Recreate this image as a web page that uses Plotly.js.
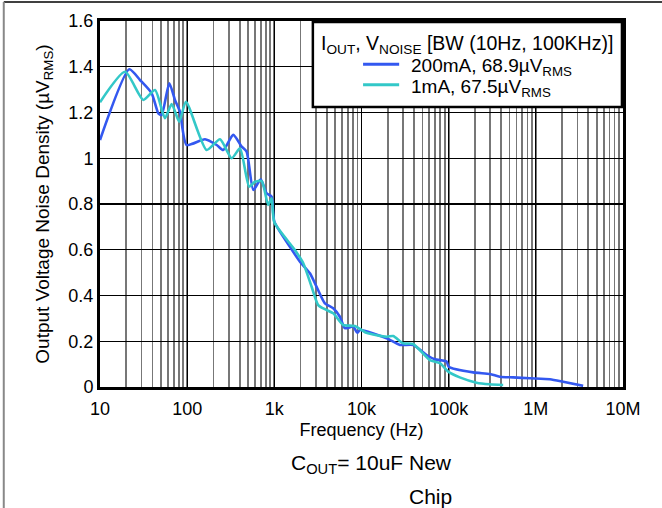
<!DOCTYPE html>
<html>
<head>
<meta charset="utf-8">
<script src="https://cdn.plot.ly/plotly-3.0.1.min.js"></script>
<style>
  html, body { margin: 0; padding: 0; background: #fff; }
  #chart { width: 662px; height: 508px; }
</style>
</head>
<body>
<div id="chart"></div>
<script>
// ---- Data ----
const freq200mA = [10, 21.7, 28.8, 39.2, 46.7, 50.9, 62.4, 72.4, 82.6, 98.6, 160, 218, 259, 338, 422, 481, 574, 697, 816, 931, 1000, 1510, 1968, 2560, 3055, 3802, 4740, 5650, 6450, 8040, 8940, 9600, 19400, 27600, 39200, 55800, 69500, 94600, 100000, 191000, 297000, 386000, 550000, 853000, 1450000, 2060000, 3490000];
const noise200mA = [1.08, 1.389, 1.342, 1.284, 1.196, 1.189, 1.328, 1.255, 1.204, 1.058, 1.083, 1.058, 1.036, 1.102, 1.051, 1.029, 0.861, 0.908, 0.847, 0.832, 0.723, 0.613, 0.548, 0.497, 0.438, 0.366, 0.344, 0.307, 0.257, 0.264, 0.237, 0.249, 0.213, 0.184, 0.184, 0.14, 0.121, 0.111, 0.089, 0.064, 0.057, 0.045, 0.042, 0.038, 0.034, 0.023, 0.005];

const freq1mA = [10, 19.4, 31.4, 42.8, 55.6, 66.4, 81.1, 96.8, 167, 238, 324, 404, 515, 600, 716, 851, 931, 1000, 1722, 2148, 2678, 3188, 3802, 4740, 6170, 8400, 11400, 19400, 23100, 30100, 39200, 60800, 79300, 98800, 134000, 209000, 297000, 422000];
const noise1mA = [1.245, 1.378, 1.255, 1.298, 1.175, 1.237, 1.16, 1.247, 1.036, 1.083, 1.0, 1.043, 0.876, 0.897, 0.9, 0.796, 0.825, 0.72, 0.599, 0.541, 0.438, 0.358, 0.34, 0.322, 0.271, 0.267, 0.237, 0.22, 0.223, 0.191, 0.188, 0.118, 0.104, 0.067, 0.042, 0.019, 0.012, 0.009];

const xTickVals = [10, 100, 1000, 10000, 100000, 1000000, 10000000];
const xTickText = ['10', '100', '1k', '10k', '100k', '1M', '10M'];
const legendHeader = 'I<sub>OUT</sub>, V<sub>NOISE</sub> [BW (10Hz, 100KHz)]';
const seriesNames = ['200mA, 68.9µV<sub>RMS</sub>', '1mA, 67.5µV<sub>RMS</sub>'];
const seriesColors = ['#3358f0', '#33c8c8'];

const FONT = 'Liberation Sans, Arial, sans-serif';

const traces = [
  { x: freq200mA, y: noise200mA, mode: 'lines', name: seriesNames[0],
    line: { color: seriesColors[0], width: 2.6, shape: 'spline', smoothing: 0.6 }, showlegend: false },
  { x: freq1mA, y: noise1mA, mode: 'lines', name: seriesNames[1],
    line: { color: seriesColors[1], width: 2.6, shape: 'spline', smoothing: 0.6 }, showlegend: false }
];

// legend box geometry in paper coords
const lgX0 = 0.407, lgX1 = 0.998, lgY0 = 0.765, lgY1 = 0.997;

const layout = {
  width: 662, height: 508,
  margin: { l: 100, r: 39, t: 21, b: 121 },
  paper_bgcolor: '#fff', plot_bgcolor: '#fff',
  font: { family: FONT, size: 18, color: '#000' },
  showlegend: false,
  xaxis: {
    type: 'log', range: [1, 7],
    tickvals: xTickVals, ticktext: xTickText,
    showgrid: true, gridcolor: '#000', gridwidth: 1.3,
    minor: { showgrid: true, gridcolor: '#777', gridwidth: 1.7, dtick: 'D1' },
    showline: true, linecolor: '#000', linewidth: 3, mirror: true,
    ticks: '', zeroline: false, ticklabelstandoff: 3,
    tickfont: { family: FONT, size: 18, color: '#000' },
    title: { text: 'Frequency (Hz)', font: { family: FONT, size: 18, color: '#000' }, standoff: 6 },
    automargin: false
  },
  yaxis: {
    range: [0, 1.6], dtick: 0.2, tick0: 0,
    showgrid: true, gridcolor: '#000', gridwidth: 1.3,
    showline: true, linecolor: '#000', linewidth: 3, mirror: true,
    ticks: '', zeroline: false,
    tickfont: { family: FONT, size: 18, color: '#000' },
    title: { text: 'Output Voltage Noise Density (µV<sub>RMS</sub>)', font: { family: FONT, size: 19, color: '#000' }, standoff: 14 },
    automargin: false
  },
  shapes: [
    // legend box
    { type: 'rect', xref: 'paper', yref: 'paper', x0: lgX0, x1: lgX1, y0: lgY0, y1: lgY1,
      fillcolor: '#fff', line: { color: '#000', width: 2.5 }, layer: 'above' },
    // legend line samples
    { type: 'line', xref: 'paper', yref: 'paper', x0: 0.503, x1: 0.572, y0: 0.882, y1: 0.882,
      line: { color: seriesColors[0], width: 3 }, layer: 'above' },
    { type: 'line', xref: 'paper', yref: 'paper', x0: 0.503, x1: 0.572, y0: 0.826, y1: 0.826,
      line: { color: seriesColors[1], width: 3 }, layer: 'above' },
    // page frame (top and left)
    { type: 'line', xref: 'paper', yref: 'paper', x0: -0.184, x1: 1.08, y0: 1.052, y1: 1.052,
      line: { color: '#000', width: 1.5 }, layer: 'above' },
    { type: 'line', xref: 'paper', yref: 'paper', x0: -0.184, x1: -0.184, y0: 1.052, y1: -0.34,
      line: { color: '#888', width: 2 }, layer: 'above' }
  ],
  annotations: [
    { xref: 'paper', yref: 'paper', x: 0.702, y: 0.935, xanchor: 'center', yanchor: 'middle',
      text: legendHeader, showarrow: false, font: { family: FONT, size: 19.5, color: '#000' } },
    { xref: 'paper', yref: 'paper', x: 0.591, y: 0.875, xanchor: 'left', yanchor: 'middle',
      text: seriesNames[0], showarrow: false, font: { family: FONT, size: 19, color: '#000' } },
    { xref: 'paper', yref: 'paper', x: 0.591, y: 0.817, xanchor: 'left', yanchor: 'middle',
      text: seriesNames[1], showarrow: false, font: { family: FONT, size: 19, color: '#000' } },
    { xref: 'paper', yref: 'paper', x: 0.677, y: -0.210, xanchor: 'right', yanchor: 'middle',
      text: 'C<sub>OUT</sub>= 10uF New', showarrow: false, font: { family: FONT, size: 21, color: '#000' } },
    { xref: 'paper', yref: 'paper', x: 0.677, y: -0.298, xanchor: 'right', yanchor: 'middle',
      text: 'Chip', showarrow: false, font: { family: FONT, size: 21, color: '#000' } }
  ]
};

Plotly.newPlot('chart', traces, layout, { displayModeBar: false, staticPlot: true });
</script>
</body>
</html>
